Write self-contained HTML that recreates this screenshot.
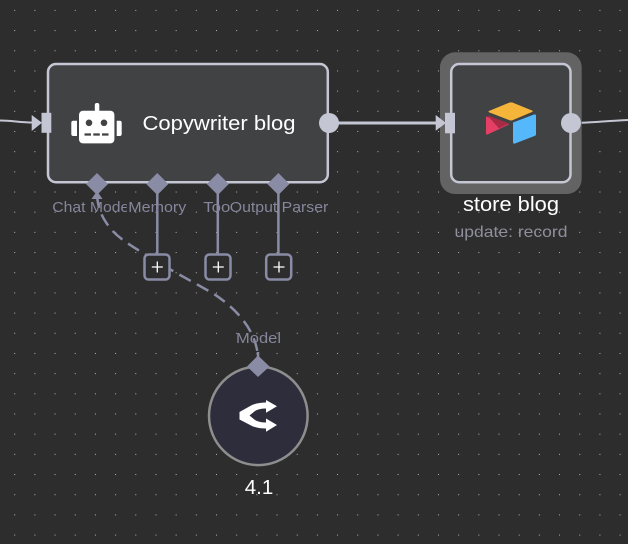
<!DOCTYPE html>
<html><head><meta charset="utf-8"><style>
html,body{margin:0;padding:0;background:#2d2d2d}
svg{display:block}
text{font-family:"Liberation Sans",sans-serif}
</style></head><body>
<svg width="628" height="544" viewBox="0 0 628 544" xmlns="http://www.w3.org/2000/svg">
<defs><pattern id="g" x="14.2" y="9.9" width="20.18" height="20.18" patternUnits="userSpaceOnUse"><rect width="1" height="1" fill="#b4b4b4"/></pattern></defs>
<rect width="628" height="544" fill="#2d2d2d"/>
<rect width="628" height="544" fill="url(#g)"/>

<!-- connectors -->
<path d="M0 120.500C12 120.500 20 122.500 33 122.500" fill="none" stroke="#c4c7d3" stroke-width="2"/>
<path d="M330 123H437" fill="none" stroke="#c4c7d3" stroke-width="3"/>
<path d="M572 123C590 123 605 121 628 120" fill="none" stroke="#c4c7d3" stroke-width="2"/>

<!-- dashed model connection -->
<path d="M97 195C98 208 101 216 110 228C120 240 135 248 158 262C172 271 195 283 214 294C232 306 255 326 258 356" fill="none" stroke="#8a8ca5" stroke-width="2.500" stroke-dasharray="13 7"/>
<path d="M91.500 199L97 191L102.500 199Z" fill="#8a8ca5"/>

<!-- vertical stems -->
<path d="M157.300 190V254M217.800 190V254M278.400 190V254" stroke="#8a8ca5" stroke-width="2.500" fill="none"/>

<!-- node 1 -->
<rect x="48" y="64" width="279.800" height="118.200" rx="8" fill="#414244" stroke="#c4c7d3" stroke-width="2.500"/>
<rect x="41.500" y="112.800" width="9.800" height="20" fill="#c4c7d3"/>
<path d="M31.700 115L42 122.800L31.700 131Z" fill="#c4c7d3"/>
<circle cx="329" cy="123" r="10" fill="#c4c7d3"/>
<!-- robot icon -->
<rect x="79" y="110.700" width="35.400" height="32.700" rx="4" fill="#fff"/>
<rect x="94.800" y="103" width="4.500" height="9" rx="2" fill="#fff"/>
<path d="M77 120.700V136H73.300Q71.300 136 71.300 134V122.700Q71.300 120.700 73.300 120.700Z" fill="#fff"/>
<path d="M116.700 120.700V136H119.700Q121.700 136 121.700 134V122.700Q121.700 120.700 119.700 120.700Z" fill="#fff"/>
<circle cx="89" cy="122.800" r="3.300" fill="#414244"/>
<circle cx="104" cy="122.800" r="3.300" fill="#414244"/>
<path d="M84.500 134.500h6.500M93.300 134.500h6.500M102 134.500h6.500" stroke="#414244" stroke-width="2.200" fill="none"/>
<text x="142.500" y="130" font-size="20.500" fill="#fff" textLength="153" lengthAdjust="spacingAndGlyphs">Copywriter blog</text>

<!-- node 2 -->
<rect x="440" y="52.300" width="141.700" height="141.700" rx="15" fill="#636363"/>
<rect x="451.200" y="64" width="119.300" height="118.200" rx="8" fill="#414244" stroke="#c4c7d3" stroke-width="2.500"/>
<rect x="445" y="112.800" width="10" height="20.500" fill="#c4c7d3"/>
<path d="M435.700 115L446 123L435.700 130.800Z" fill="#c4c7d3"/>
<circle cx="571" cy="123" r="10" fill="#c4c7d3"/>
<!-- airtable icon -->
<path d="M489.500 110.800L509 102.800Q511 102 513 102.800L532 110.500Q533.500 111.300 532 112L513 120Q511 121 509 120L489.500 112.500Q487.500 111.500 489.500 110.800Z" fill="#f4b53a"/>
<path d="M513 122.500L534 114.500Q536 114 536 116V134Q536 135.500 534.500 136L515 143.500Q513 144 513 142V123Z" fill="#54b8fb"/>
<path d="M486 116.500L509 124.500L487.500 134.500Q486 135 486 133.500Z" fill="#e63f65"/>
<path d="M487 115L509 123.500L499 128.500Z" fill="#a82a45"/>

<!-- diamonds -->
<path d="M97 173L108 184L97 195L86 184ZM157.300 173L168.300 184L157.300 195L146.300 184ZM217.800 173L228.800 184L217.800 195L206.800 184ZM278.400 173L289.400 184L278.400 195L267.400 184Z" fill="#8a8ca5"/>

<!-- labels -->
<g font-size="15" fill="#85869c">
<text x="52.300" y="212" textLength="77" lengthAdjust="spacingAndGlyphs">Chat Mode</text>
<rect x="126.800" y="198" width="2" height="18" fill="#2d2d2d"/>
<text x="128.300" y="212" textLength="58" lengthAdjust="spacingAndGlyphs">Memory</text>
<text x="203.300" y="212" textLength="27" lengthAdjust="spacingAndGlyphs">Too</text>
<text x="229.800" y="212" textLength="98.500" lengthAdjust="spacingAndGlyphs">Output Parser</text>
<text x="236" y="343" textLength="45" lengthAdjust="spacingAndGlyphs">Model</text>
</g>

<!-- plus boxes -->
<g fill="#2d2d2d" stroke="#8a8ca5" stroke-width="2.500">
<rect x="144.500" y="254.500" width="25" height="25" rx="4"/>
<rect x="205.500" y="254.500" width="25" height="25" rx="4"/>
<rect x="266.200" y="254.500" width="25" height="25" rx="4"/>
</g>
<path d="M151.800 267H162.800M157.300 261.500V272.500M212.800 267H223.800M218.300 261.500V272.500M273.500 267H284.500M279 261.500V272.500" stroke="#fff" stroke-width="1.300" fill="none"/>

<!-- store blog labels -->
<text x="511" y="211" font-size="20.500" fill="#fff" text-anchor="middle" textLength="96" lengthAdjust="spacingAndGlyphs">store blog</text>
<text x="511" y="237" font-size="16" fill="#8f909c" text-anchor="middle" textLength="113" lengthAdjust="spacingAndGlyphs">update: record</text>

<!-- model node -->
<circle cx="258.300" cy="415.800" r="49.300" fill="#2d2d3b" stroke="#8e8e8e" stroke-width="2.500"/>
<path d="M258 352V366" stroke="#8a8ca5" stroke-width="2.500"/>
<path d="M258 355.500L269.500 366.500L258 377L247 366.500Z" fill="#8a8ca5"/>
<path d="M239.500 412L252 405Q258 402.500 266 402.500V400L277 406.300L266 412.700V408.500Q259 408.500 255 411L249.500 415.500L255 420Q259 422.500 266 422.500V418.500L277 425L266 431.700V428.500Q258 428.500 252 426L239.500 419.500Z" fill="#fff"/>
<text x="259" y="494" font-size="20.500" fill="#fff" text-anchor="middle">4.1</text>
</svg>
</body></html>
